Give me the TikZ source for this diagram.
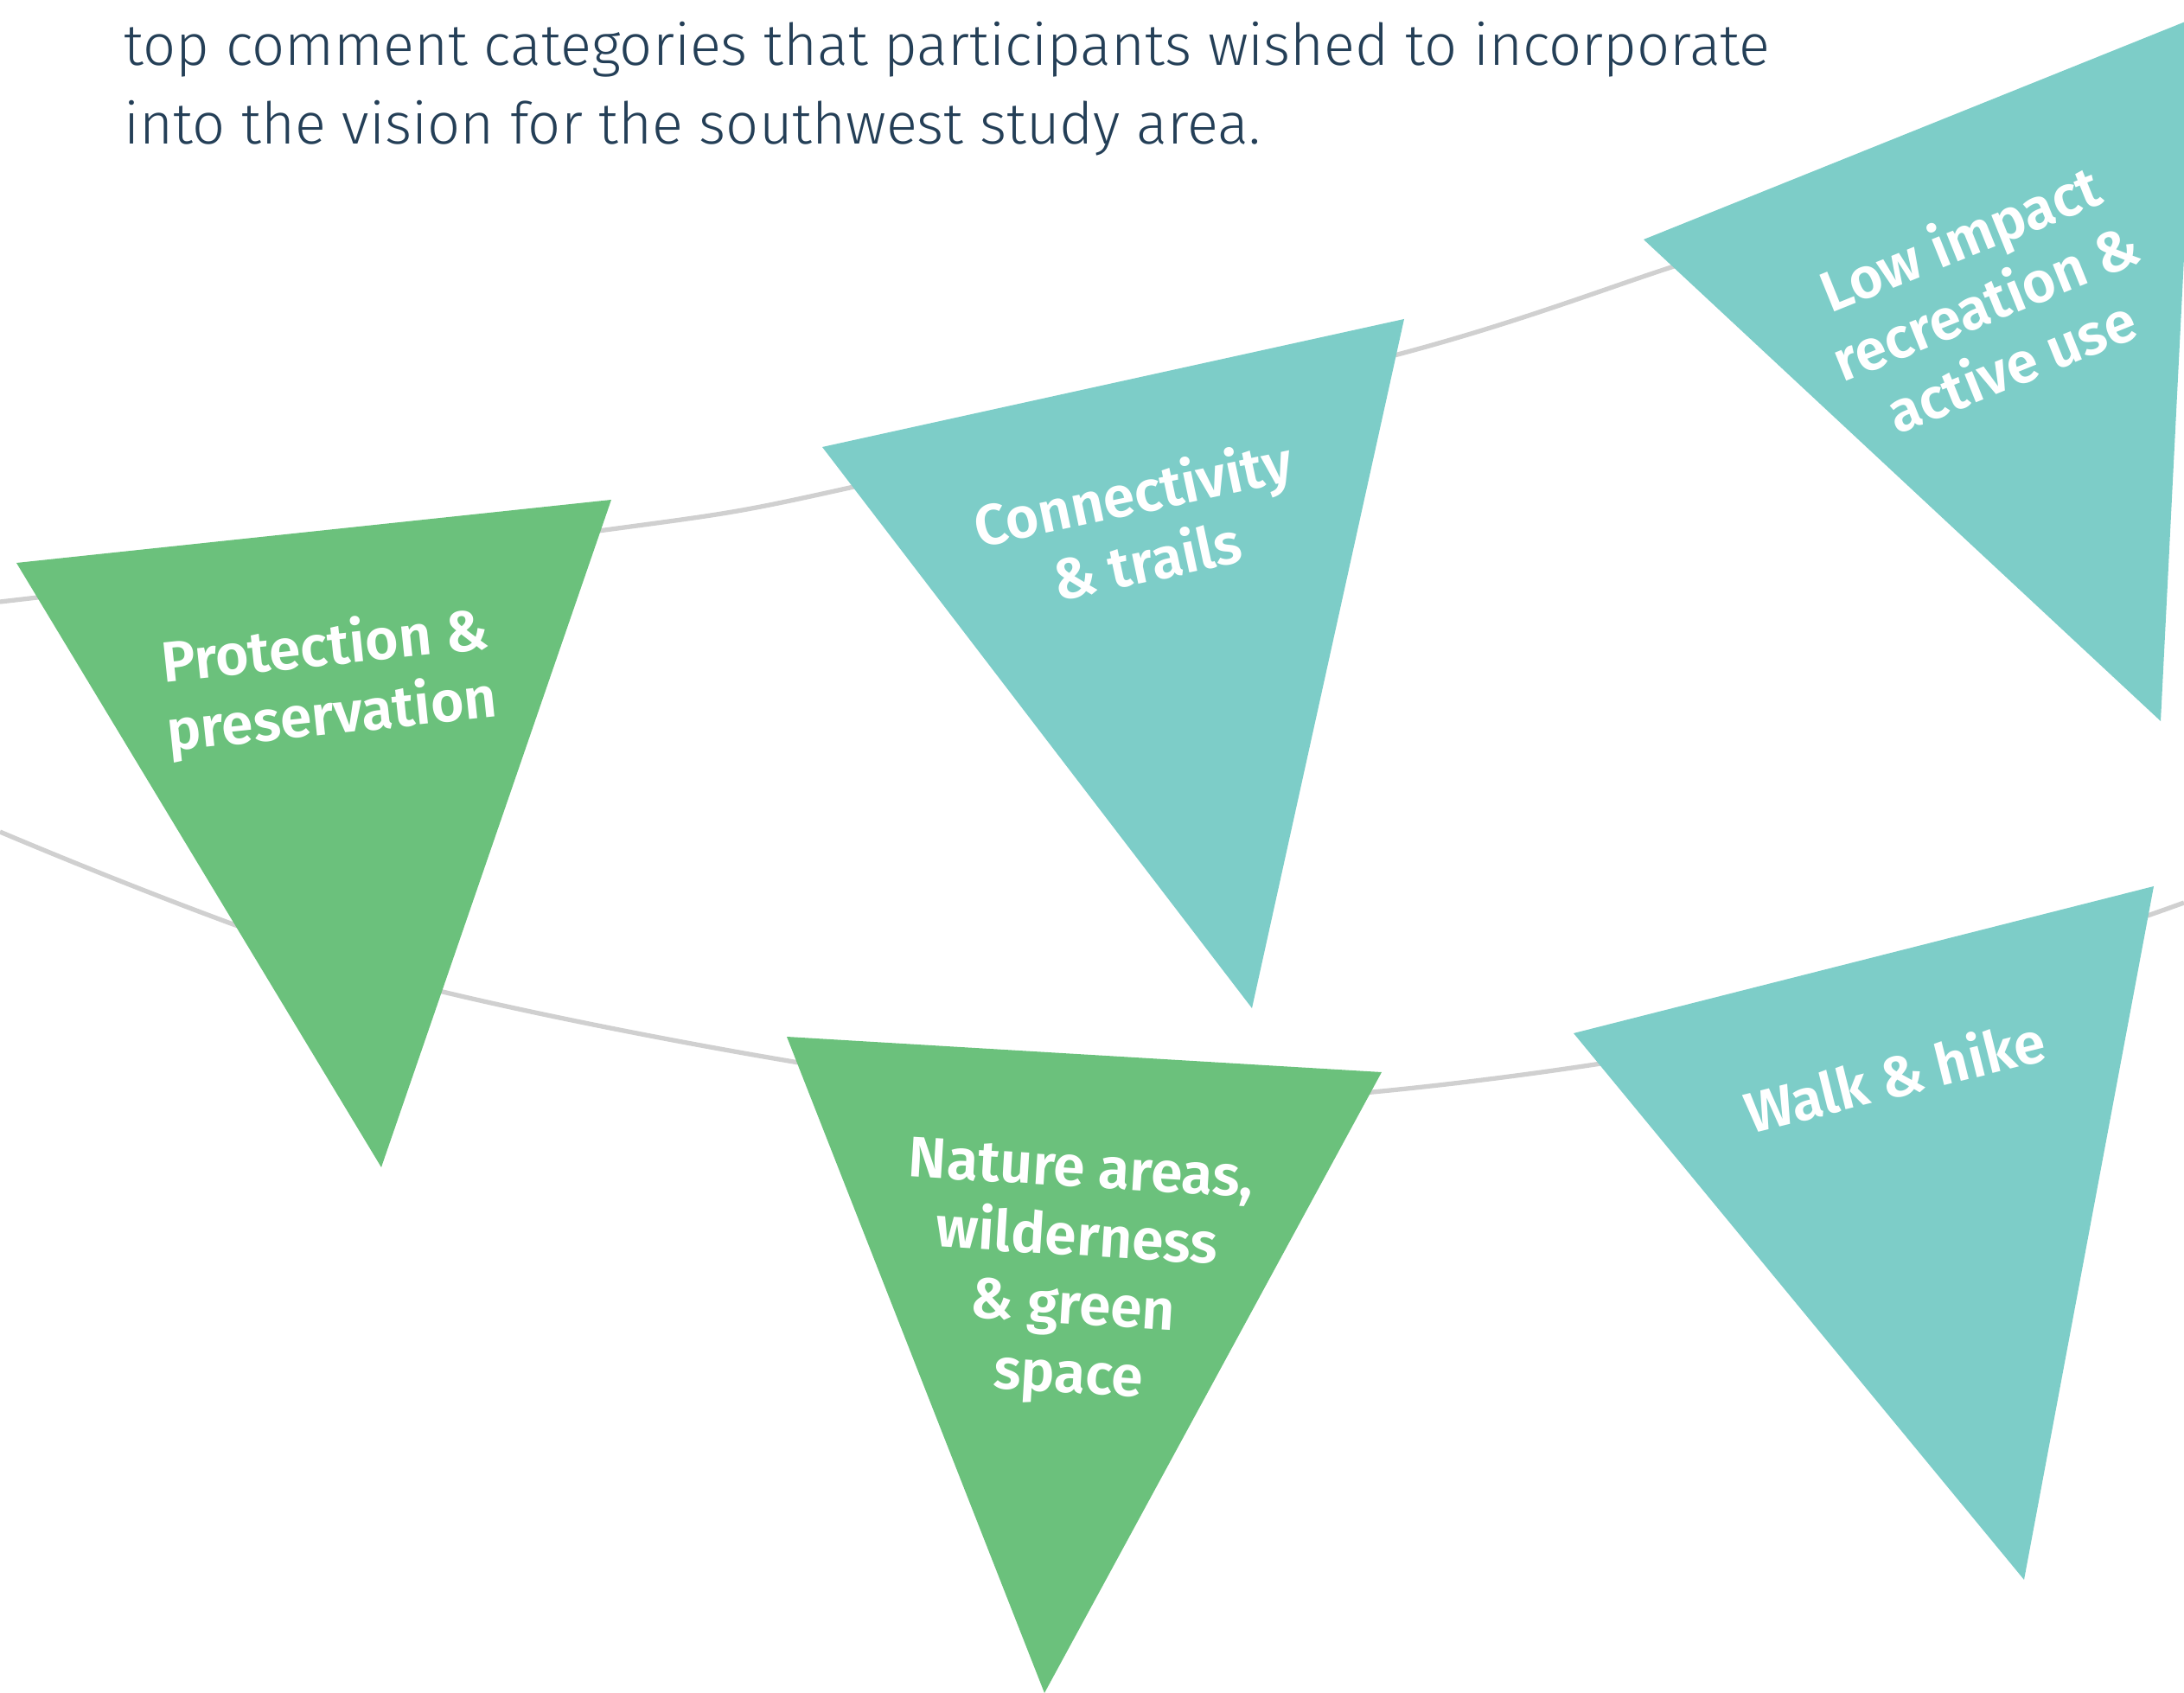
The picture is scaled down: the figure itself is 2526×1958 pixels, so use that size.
\documentclass[tikz,border=0pt]{standalone}
\usepackage{fontspec}
\setmainfont{Fira Sans}[UprightFont=* Light, BoldFont=* SemiBold]
\usetikzlibrary{positioning}

\definecolor{navy}{HTML}{243F57}
\definecolor{leaf}{HTML}{6BC17C}
\definecolor{aqua}{HTML}{7DCDC8}
\definecolor{cordgray}{HTML}{D0D0D0}

\tikzset{
  cord/.style={draw=cordgray,line width=1.5pt},
  greenflag/.style={fill=leaf},
  tealflag/.style={fill=aqua},
  flagtext/.style={text=white,align=center,inner sep=0pt,
    font=\fontsize{18.8pt}{22.6pt}\selectfont\bfseries},
}

\begin{document}
\begin{tikzpicture}[x=0.01cm,y=-0.01cm]
\useasboundingbox (0,0) rectangle (2526,1958);
\clip (0,0) rectangle (2526,1958);

\node(intro) at (143,24)[anchor=north west,inner sep=0pt,align=left,text=navy,
  font=\fontsize{19pt}{26pt}\selectfont]
  {top comment categories that participants wished to incorporate\\
   into the vision for the southwest study area.};

% the two strings
\coordinate(u0) at (0,696);
\coordinate(u1) at (707,612);
\coordinate(u2) at (983,564);
\coordinate(u3) at (1624,408);
\coordinate(u4) at (1933,309);
\coordinate(u5) at (2200,220);
\coordinate(l0) at (0,962);
\coordinate(l1) at (512,1147);
\coordinate(l2) at (1300,1275);
\coordinate(l3) at (2000,1205);
\coordinate(l4) at (2526,1044);

\draw[cord] plot[smooth] coordinates {(u0) (u1) (u2) (u3) (u4) (u5)};
\draw[cord] plot[smooth] coordinates {(l0) (l1) (l2) (l3) (l4)};

% flags
\fill[greenflag] (19,651) -- (707,578) -- (441,1350) -- cycle;
\fill[tealflag] (951,517) -- (1624,369) -- (1448,1166) -- cycle;
\fill[tealflag] (1901,277) -- (2540,20) -- (2499,834) -- cycle;
\fill[greenflag] (910,1199) -- (1598,1240) -- (1208,1958) -- cycle;
\fill[tealflag] (1820,1195) -- (2491,1025) -- (2341,1827) -- cycle;

\node(protect) at (380,790)[flagtext,rotate=6]   {Protection \&\\preservation};
\node(connect) at (1318,608)[flagtext,rotate=12] {Connectivity\\\& trails};
\node(lowimp)  at (2296,348)[flagtext,rotate=22] {Low impact\\recreation \&\\active use};
\node(nature)  at (1243,1476)[flagtext,rotate=-3.5] {Nature areas,\\wilderness\\\& green\\space};
\node(walk)    at (2191,1243)[flagtext,rotate=14] {Walk \& hike};

\end{tikzpicture}
\end{document}
